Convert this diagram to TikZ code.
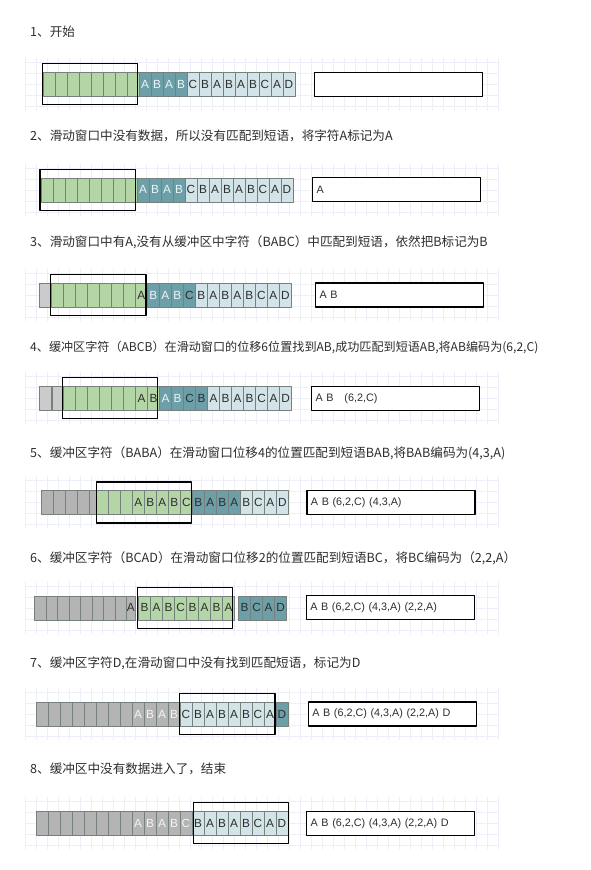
\documentclass[tikz,border=0pt]{standalone}
\usepackage{fontspec}
\setmainfont{Liberation Sans}
\newfontfamily\cjk{Noto Sans CJK SC}
\definecolor{cellgreen}{HTML}{B4D6A6}
\definecolor{cellteal}{HTML}{6C9FA8}
\definecolor{celllight}{HTML}{D2E4E7}
\definecolor{cellgray}{HTML}{B4B4B4}
\definecolor{cellgrayl}{HTML}{CBCBCB}
\definecolor{cellline}{HTML}{76807D}
\definecolor{celltext}{HTML}{2E2E2E}
\definecolor{gridline}{HTML}{EEEEF8}

\begin{document}
\begin{tikzpicture}[line cap=round,line join=round,x=1pt,y=-1pt,
  cell/.style={draw=cellline,line width=0.6pt,minimum width=12pt,minimum height=24pt,inner sep=0pt,anchor=west,font=\fontsize{11.8}{11.8}\selectfont},
  grn/.style={fill=cellgreen,text=celltext},
  drk/.style={fill=cellteal,text=celltext},
  drkw/.style={fill=cellteal,text=white!88!cellteal},
  lgt/.style={fill=celllight,text=celltext},
  gry/.style={fill=cellgray,text=celltext},
  gryl/.style={fill=cellgrayl,text=celltext},
  gryw/.style={fill=cellgray,text=white!85!cellgray},
  win/.style={draw=black,line width=1.3pt},
  outbox/.style={draw=black,line width=1.3pt,fill=white,anchor=west,text width=160pt,align=left,inner xsep=4pt,inner ysep=0pt,minimum height=24pt,font=\fontsize{10.8}{10.8}\selectfont,text=celltext},
  steptitle/.style={anchor=west,inner sep=0pt,font=\cjk\fontsize{12.6}{12.6}\selectfont,text=celltext}]
\useasboundingbox[fill=white] (0,0) rectangle (590,870);
\foreach \ym in {84.3,189.8,295,398.3,502.5,607.8,714,823.3}{
\foreach \gx in {25,36,...,498} \draw[gridline,line width=0.45pt] (\gx,\ym-26) -- (\gx,\ym+26);
\foreach \gy in {-22,-11,...,22} \draw[gridline,line width=0.45pt] (25,\ym+\gy) -- (498,\ym+\gy);
}
% titles
\node[steptitle] (t1) at (30,32) {1、开始};
\node[steptitle] (t2) at (30,136) {2、滑动窗口中没有数据，所以没有匹配到短语，将字符A标记为A};
\node[steptitle] (t3) at (30,242) {3、滑动窗口中有A,没有从缓冲区中字符（BABC）中匹配到短语，依然把B标记为B};
\node[steptitle,font=\cjk\fontsize{12.1}{12.1}\selectfont] (t4) at (30,348) {4、缓冲区字符（ABCB）在滑动窗口的位移6位置找到AB,成功匹配到短语AB,将AB编码为(6,2,C)};
\node[steptitle] (t5) at (30,453) {5、缓冲区字符（BABA）在滑动窗口位移4的位置匹配到短语BAB,将BAB编码为(4,3,A)};
\node[steptitle] (t6) at (30,558) {6、缓冲区字符（BCAD）在滑动窗口位移2的位置匹配到短语BC，将BC编码为（2,2,A）};
\node[steptitle] (t7) at (30,663) {7、缓冲区字符D,在滑动窗口中没有找到匹配短语，标记为D};
\node[steptitle] (t8) at (30,769) {8、缓冲区中没有数据进入了，结束};
% row 1
\foreach \f/\l [count=\i from 0] in {grn/,grn/,grn/,grn/,grn/,grn/,grn/,grn/,drkw/A,drkw/B,drkw/A,drkw/B,lgt/C,lgt/B,lgt/A,lgt/B,lgt/A,lgt/B,lgt/C,lgt/A,lgt/D}
\node[cell,\f] (r1c\i) at (42.7+12*\i,84.3) {\l};
\draw[win] (42.3,63.8) rectangle (137.3,104.8);
\node[outbox] (o1) at (314,84.3) {};
% row 2
\foreach \f/\l [count=\i from 0] in {grn/,grn/,grn/,grn/,grn/,grn/,grn/,grn/,drkw/A,drkw/B,drkw/A,drkw/B,lgt/C,lgt/B,lgt/A,lgt/B,lgt/A,lgt/B,lgt/C,lgt/A,lgt/D}
\node[cell,\f] (r2c\i) at (40.7+12*\i,189.8) {\l};
\draw[win] (40,169.3) rectangle (135.7,210.3);
\node[outbox] (o2) at (312,189.8) {A};
% row 3
\foreach \f/\l [count=\i from 0] in {gryl/,grn/,grn/,grn/,grn/,grn/,grn/,grn/,grn/A,drkw/B,drkw/A,drkw/B,drk/C,lgt/B,lgt/A,lgt/B,lgt/A,lgt/B,lgt/C,lgt/A,lgt/D}
\node[cell,\f] (r3c\i) at (39+12*\i,295) {\l};
\draw[win] (50.7,274.5) rectangle (146,315.5);
\node[outbox] (o3) at (315,295) {A B};
% row 4
\node[cell,gryl,minimum width=11.5pt] (r4g1) at (39,398.3) {};
\node[cell,gryl,minimum width=11pt] (r4g2) at (52.3,398.3) {};
\foreach \f/\l [count=\i from 0] in {grn/,grn/,grn/,grn/,grn/,grn/,grn/A,grn/B,drkw/A,drkw/B,drk/C,drk/B,lgt/A,lgt/B,lgt/A,lgt/B,lgt/C,lgt/A,lgt/D}
\node[cell,\f] (r4c\i) at (63.3+12*\i,398.3) {\l};
\draw[win] (62.3,377.8) rectangle (157.3,418.8);
\node[outbox] (o4) at (311,398.3) {A B \ \ (6,2,C)};
% row 5
\foreach \i in {0,...,3}
\node[cell,gry] (r5g\i) at (40.7+12*\i,502.5) {};
\node[cell,gry,minimum width=7.3pt] (r5g4) at (88.7,502.5) {};
\foreach \f/\l [count=\i from 0] in {grn/,grn/,grn/,grn/A,grn/B,grn/A,grn/B,grn/C,drk/B,drk/A,drk/B,drk/A,lgt/B,lgt/C,lgt/A,lgt/D}
\node[cell,\f] (r5c\i) at (96+12*\i,502.5) {\l};
\draw[win] (96.7,482) rectangle (191.7,523);
\node[outbox] (o5) at (306.3,502.5) {A B (6,2,C) (4,3,A)};
% row 6
\foreach \i in {0,...,7}
\node[cell,gry,minimum width=11.5pt] (r6g\i) at (34+11.5*\i,607.8) {};
\node[cell,gry,minimum width=9pt] (r6g8) at (126,607.8) {A};
\foreach \f/\l [count=\i from 0] in {grn/B,grn/A,grn/B,grn/C,grn/B,grn/A,grn/B,grn/A}
\node[cell,\f] (r6c\i) at (138.3+12*\i,607.8) {\l};
\foreach \f/\l [count=\i from 0] in {drk/B,drk/C,drk/A,drk/D}
\node[cell,\f] (r6b\i) at (238.3+12*\i,607.8) {\l};
\draw[win] (137.3,587.3) rectangle (232.7,628.3);
\node[outbox] (o6) at (305.7,607.8) {A B (6,2,C) (4,3,A) (2,2,A)};
% row 7
\foreach \f/\l [count=\i from 0] in {gry/,gry/,gry/,gry/,gry/,gry/,gry/,gry/,gryw/A,gryw/B,gryw/A,gryw/B,lgt/C,lgt/B,lgt/A,lgt/B,lgt/A,lgt/B,lgt/C,lgt/A,drk/D}
\node[cell,\f] (r7c\i) at (35.7+12*\i,714) {\l};
\draw[win] (179.3,693.5) rectangle (275,734.5);
\node[outbox] (o7) at (307.7,714) {A B (6,2,C) (4,3,A) (2,2,A) D};
% row 8
\foreach \f/\l [count=\i from 0] in {gry/,gry/,gry/,gry/,gry/,gry/,gry/,gry/,gryw/A,gryw/B,gryw/A,gryw/B,gryw/C,lgt/B,lgt/A,lgt/B,lgt/A,lgt/B,lgt/C,lgt/A,lgt/D}
\node[cell,\f] (r8c\i) at (35.7+12*\i,823.3) {\l};
\draw[win] (193.3,802.8) rectangle (288.3,843.8);
\node[outbox] (o8) at (306,823.3) {A B (6,2,C) (4,3,A) (2,2,A) D};
\end{tikzpicture}
\end{document}
